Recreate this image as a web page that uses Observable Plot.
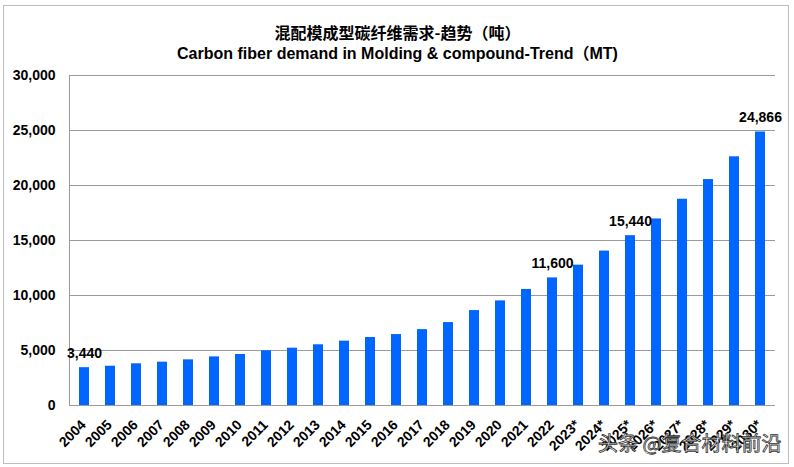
<!DOCTYPE html>
<html>
<head>
<meta charset="utf-8">
<script src="https://cdn.jsdelivr.net/npm/d3@7"></script>
<script src="https://cdn.jsdelivr.net/npm/@observablehq/plot@0.6"></script>
<style>
  html, body { margin: 0; padding: 0; background: #fff; }
  #wrap { position: relative; width: 794px; height: 467px; overflow: hidden; }
  #border { position: absolute; left: 3px; top: 5px; width: 784px; height: 457px; border: 1px solid #bdbdbd; pointer-events: none; }
  #wm { position: absolute; left: 598px; top: 428px; font-family: "Noto Sans CJK SC", sans-serif; font-size: 20px; color: #fff;
        -webkit-text-stroke: 0.8px #333; white-space: nowrap; }
</style>
</head>
<body>
<div id="wrap"><div id="chart"></div><div id="border"></div><div id="wm">头条 @复合材料前沿</div></div>
<script>
const years = ["2004","2005","2006","2007","2008","2009","2010","2011","2012","2013","2014","2015","2016","2017","2018","2019","2020","2021","2022","2023*","2024*","2025*","2026*","2027*","2028*","2029*","2030*"];
const demand = [3440,3570,3790,3940,4150,4420,4640,4970,5210,5520,5850,6180,6450,6900,7540,8630,9510,10550,11600,12760,14040,15440,16960,18750,20540,22610,24866];
const labeledYears = ["2004","2022","2025*","2030*"];
const yTicks = [0,5000,10000,15000,20000,25000,30000];
const titleCn = "混配模成型碳纤维需求-趋势（吨）";
const titleEn = "Carbon fiber demand in Molding & compound-Trend（MT)";

const data = years.map((y, i) => ({year: y, value: demand[i]}));
const labeled = data.filter(d => labeledYears.includes(d.year));
const fmt = d3.format(",");

const chart = Plot.plot({
  width: 794,
  height: 467,
  marginLeft: 69,
  marginRight: 19,
  marginTop: 75,
  marginBottom: 62,
  style: {fontFamily: "'Liberation Sans', Arial, 'Noto Sans CJK SC', sans-serif", color: "#000", background: "transparent"},
  x: {type: "band", domain: years, paddingInner: 0.62, paddingOuter: 0.31, label: null},
  y: {domain: [0, 30000], label: null},
  marks: [
    Plot.gridY(yTicks, {stroke: "#9a9a9a", strokeOpacity: 1}),
    Plot.frame({anchor: "left", stroke: "#9a9a9a"}),
    Plot.barY(data, {x: "year", y: "value", fill: "#0066ff"}),
    Plot.ruleY([0], {stroke: "#9a9a9a"}),
    Plot.text(labeled, {x: "year", y: "value", text: d => fmt(d.value), dy: -14, fontSize: 14, fontWeight: "bold", fill: "#000"}),
    Plot.axisY({ticks: yTicks, tickFormat: d => fmt(d), tickSize: 0, tickPadding: 14, fontSize: 14, fontWeight: "bold", label: null}),
    Plot.axisX({tickRotate: -45, tickSize: 0, tickPadding: 17, dx: -1, fontSize: 14, fontWeight: "bold", label: null}),
    Plot.text([titleCn], {frameAnchor: "top", dx: -25, dy: -48, fontSize: 16, fontWeight: "bold", fill: "#000", fontFamily: "'Noto Sans CJK SC', sans-serif"}),
    Plot.text([titleEn], {frameAnchor: "top", dx: -25, dy: -28, fontSize: 16, fontWeight: "bold", fill: "#000"})
  ]
});
document.getElementById("chart").appendChild(chart);
</script>
</body>
</html>
